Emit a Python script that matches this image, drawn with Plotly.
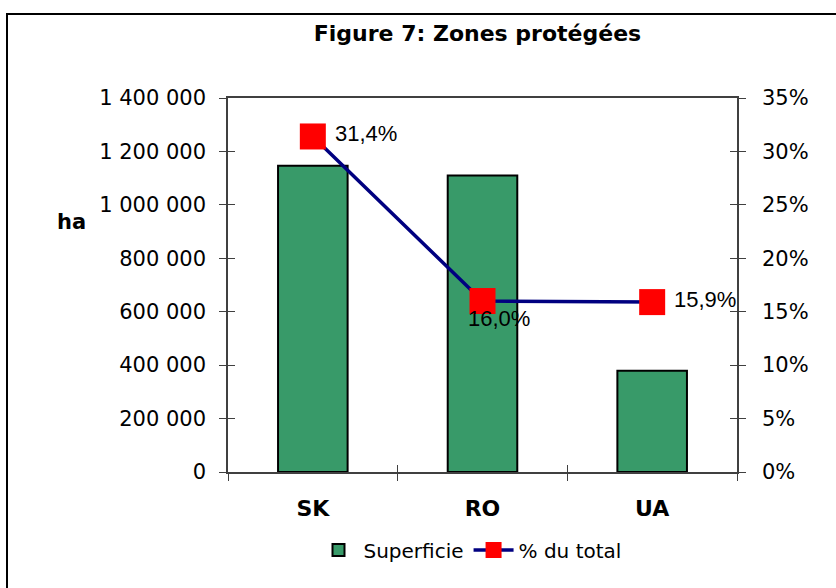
import plotly.graph_objects as go

categories = ["SK", "RO", "UA"]
superficie_ha = [1146000, 1110000, 379000]
pct_total = [31.4, 16.0, 15.9]
left_ticks = [0, 200000, 400000, 600000, 800000, 1000000, 1200000, 1400000]
right_ticks = [0, 5, 10, 15, 20, 25, 30, 35]
right_labels = [f"{v}%" for v in right_ticks]

W, H = 836, 588
PL, PR, PT, PB = 228, 737, 98, 472  # plot area in pixels
L, R, T, B = PL, W - PR, PT, H - PB
pw, ph = PR - PL, PB - PT


def px(x):
    return (x - PL) / pw


def py(y):
    return (PB - y) / ph


fig = go.Figure()
fig.add_trace(go.Bar(
    x=categories, y=superficie_ha, name="Superficie",
    marker=dict(color="#389A69", line=dict(color="black", width=2)),
    width=0.41, yaxis="y", xaxis="x",
))
fig.add_trace(go.Scatter(
    x=categories, y=pct_total, name="% du total", mode="lines+markers",
    line=dict(color="#000080", width=3.5),
    marker=dict(symbol="square", size=26, color="#FF0000", line=dict(width=0)),
    yaxis="y2", xaxis="x",
))

tick_font = dict(family="DejaVu Sans", size=21, color="black")
axcol = "#404040"

shifts = [(20, 3), (-17, -17), (20, 3)]
annotations = []
for c, v, (dx, dy) in zip(categories, pct_total, shifts):
    annotations.append(dict(
        x=c, y=v, xref="x", yref="y2", text=f"{v:.1f}".replace(".", ",") + "%",
        showarrow=False, xanchor="left", yanchor="middle", xshift=dx, yshift=dy,
        font=dict(family="Liberation Sans", size=22, color="black"),
    ))
annotations.append(dict(
    x=px(71), y=py(222), xref="paper", yref="paper", text="<b>ha</b>",
    showarrow=False, xanchor="center", yanchor="middle",
    font=dict(family="DejaVu Sans", size=21, color="black"),
))

fig.update_layout(
    width=W, height=H,
    margin=dict(l=L, r=R, t=T, b=B, pad=0),
    paper_bgcolor="white", plot_bgcolor="white",
    separators=", ",
    title=dict(text="<b>Figure 7: Zones protégées</b>", xref="container",
               x=477.5 / W, xanchor="center", yref="container",
               y=1 - 33 / H, yanchor="middle",
               font=dict(family="DejaVu Sans", size=22, color="black")),
    xaxis=dict(type="category", categoryarray=categories, range=[-0.5, 2.5],
               showline=True, linecolor=axcol, linewidth=1.5, mirror=True,
               ticks="outside", tickson="boundaries", ticklen=7, tickcolor=axcol,
               showgrid=False, ticklabelstandoff=16,
               tickfont=dict(family="DejaVu Sans", size=22, color="black", weight="bold")),
    xaxis2=dict(overlaying="x", anchor="y", range=[-0.5, 2.5], tickvals=[0.5, 1.5],
                ticks="inside", ticklen=7, tickcolor=axcol, showticklabels=False,
                showgrid=False, showline=False, zeroline=False, side="bottom"),
    yaxis=dict(range=[0, 1400000], tickvals=left_ticks, tickformat=",d",
               showline=True, linecolor=axcol, linewidth=1.5,
               ticks="outside", ticklen=7, tickcolor=axcol, showgrid=False,
               zeroline=False, tickfont=tick_font, ticklabelstandoff=9),
    yaxis2=dict(range=[0, 35], tickvals=right_ticks, ticktext=right_labels,
                overlaying="y", side="right", anchor="x",
                showline=True, linecolor=axcol, linewidth=1.5,
                ticks="outside", ticklen=7, tickcolor=axcol, showgrid=False,
                zeroline=False, tickfont=tick_font, ticklabelstandoff=12),
    yaxis3=dict(range=[0, 1400000], tickvals=left_ticks, overlaying="y", side="left",
                anchor="x", ticks="inside", ticklen=7, tickcolor=axcol,
                showticklabels=False, showgrid=False, showline=False, zeroline=False),
    yaxis4=dict(range=[0, 35], tickvals=right_ticks, overlaying="y", side="right",
                anchor="x", ticks="inside", ticklen=7, tickcolor=axcol,
                showticklabels=False, showgrid=False, showline=False, zeroline=False),
    legend=dict(orientation="h", x=px(470), xanchor="center",
                y=py(550), yanchor="middle",
                font=dict(family="DejaVu Sans", size=20, color="black"),
                bgcolor="rgba(0,0,0,0)", itemwidth=40),
    showlegend=True,
    annotations=annotations,
    shapes=[dict(type="rect", xref="paper", yref="paper",
                 x0=px(7), x1=px(860), y0=py(620), y1=py(14),
                 line=dict(color="black", width=2), fillcolor="rgba(0,0,0,0)",
                 layer="below")],
)

fig.add_trace(go.Scatter(x=[0], y=[0], xaxis="x2", yaxis="y3", showlegend=False,
                         mode="markers", marker=dict(opacity=0), hoverinfo="skip"))
fig.add_trace(go.Scatter(x=[0], y=[0], xaxis="x", yaxis="y4", showlegend=False,
                         mode="markers", marker=dict(opacity=0), hoverinfo="skip"))

fig.write_html("out.html", config={"displayModeBar": False},
               post_script="document.body.style.margin='0px';document.body.style.overflow='hidden';")
